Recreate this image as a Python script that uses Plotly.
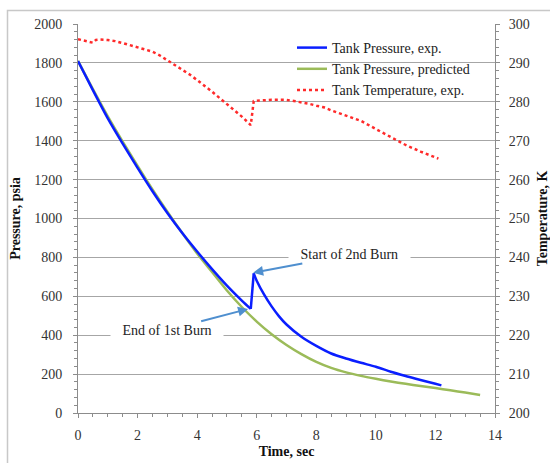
import plotly.graph_objects as go
from plotly.subplots import make_subplots

# ---- data ----
t_pred = [0, 0.5, 1, 1.5, 2, 2.5, 3, 3.5, 4, 4.5, 5, 5.5, 6, 6.5, 7, 7.5, 8, 8.5, 9, 9.5,
          10, 10.5, 11, 11.5, 12, 12.5, 13, 13.5]
p_pred = [1810, 1665, 1525, 1395, 1270, 1150, 1035, 925, 820, 725, 630, 545, 470, 405, 350, 303,
          263, 232, 209, 191, 176, 162, 150, 139, 128, 117, 105, 93]

t_exp_1 = [0, 0.5, 1, 1.5, 2, 2.5, 3, 3.5, 4, 4.5, 5, 5.5, 5.8]
p_exp_1 = [1810, 1660, 1515, 1385, 1260, 1140, 1028, 925, 830, 740, 655, 578, 535]
t_exp_2 = [5.9, 6.0, 6.25, 6.5, 6.75, 7.0, 7.5, 8.0, 8.5, 9.0, 9.5, 10.0, 10.5, 11.0, 11.5,
           12.0, 12.2]
p_exp_2 = [718, 680, 608, 548, 497, 455, 392, 345, 306, 280, 258, 238, 212, 190, 170, 150, 142]

t_temp = [0, 0.25, 0.5, 0.6, 0.75, 1.0, 1.25, 1.5, 1.75, 2.0, 2.25, 2.5, 2.75, 3.0, 3.25, 3.5,
          3.75, 4.0, 4.25, 4.5, 4.75, 5.0, 5.25, 5.5, 5.8, 5.9, 6.0, 6.5, 7.0, 7.25, 7.5, 7.75,
          8.0, 8.25, 8.5, 9.0, 9.5, 10.0, 10.5, 11.0, 11.5, 12.1]
temp = [296.1, 295.7, 295.2, 295.9, 296.0, 295.9, 295.6, 295.1, 294.6, 294.1, 293.6, 292.9,
        291.9, 290.7, 289.6, 288.3, 287.0, 285.6, 284.2, 282.6, 281.0, 279.3, 277.8, 276.2,
        274.0, 280.2, 280.3, 280.5, 280.5, 280.2, 279.9, 279.5, 279.0, 278.6, 277.8, 276.5,
        275.1, 273.0, 270.9, 268.9, 267.2, 265.4]

x_ticks = [0, 2, 4, 6, 8, 10, 12, 14]

FONT = "Liberation Serif"
FS = 14
GRID = "#A6A6A6"
AX = "#8C8C8C"
BLUE = "#0A1EFF"

W, H = 550, 463
L, R, T, B = 78, 55, 24, 50
pw, ph = W - L - R, H - T - B


def px2paper_x(px):
    return (px - L) / pw


def px2paper_y(py):
    return (H - B - py) / ph


fig = make_subplots(specs=[[{"secondary_y": True}]])

fig.add_trace(go.Scatter(x=t_pred, y=p_pred, mode="lines", name="Tank Pressure, predicted",
                         line=dict(color="#9BBB59", width=2.5, shape="spline", smoothing=0.8),
                         legendrank=2),
              secondary_y=False)
fig.add_trace(go.Scatter(x=t_exp_1, y=p_exp_1, mode="lines", name="Tank Pressure, exp.",
                         legendgroup="exp", legendrank=1,
                         line=dict(color=BLUE, width=2.5, shape="spline", smoothing=0.8)),
              secondary_y=False)
fig.add_trace(go.Scatter(x=[t_exp_1[-1], t_exp_2[0]], y=[p_exp_1[-1], p_exp_2[0]], mode="lines",
                         legendgroup="exp", showlegend=False,
                         line=dict(color=BLUE, width=2.5)),
              secondary_y=False)
fig.add_trace(go.Scatter(x=t_exp_2, y=p_exp_2, mode="lines", legendgroup="exp", showlegend=False,
                         line=dict(color=BLUE, width=2.5, shape="spline", smoothing=0.8)),
              secondary_y=False)
fig.add_trace(go.Scatter(x=t_temp, y=temp, mode="lines", name="Tank Temperature, exp.",
                         legendrank=3,
                         line=dict(color="#FF2A2A", width=2.5, dash="dot")),
              secondary_y=True)

fig.update_layout(
    width=W, height=H, autosize=False,
    margin=dict(l=L, r=R, t=T, b=B, autoexpand=False),
    paper_bgcolor="white", plot_bgcolor="white",
    font=dict(family=FONT, size=FS, color="#222222"),
    showlegend=True,
    legend=dict(x=px2paper_x(292), y=px2paper_y(32), xanchor="left", yanchor="top",
                bgcolor="rgba(255,255,255,0)", font=dict(family=FONT, size=FS, color="#222222"),
                traceorder="normal", tracegroupgap=0, itemwidth=30),
    shapes=[
        dict(type="rect", xref="paper", yref="paper", layer="between",
             x0=px2paper_x(284), x1=px2paper_x(494), y0=px2paper_y(97), y1=px2paper_y(34),
             fillcolor="white", line=dict(width=0)),
        dict(type="path", xref="paper", yref="paper", layer="below",
             path="M {x0},{y1} L {x1},{y1} L {x1},{y0} L {x0},{y0} Z".format(
                 x0=px2paper_x(7.5), x1=px2paper_x(600), y0=px2paper_y(520), y1=px2paper_y(10.5)),
             line=dict(color="#C8C8C8", width=1.5)),
    ],
)

fig.update_xaxes(
    domain=[0, 1],
    range=[0, 14], tickvals=x_ticks, ticks="outside", ticklen=4, tickcolor=AX,
    showline=True, linecolor=AX, linewidth=1, showgrid=False, zeroline=False, automargin=False,
    tickfont=dict(family=FONT, size=FS, color="#333333"), ticklabelstandoff=5,
    minor=dict(dtick=0.5, ticks="outside", ticklen=3, tickcolor=AX),
    title=dict(text="<b>Time, sec</b>", font=dict(family=FONT, size=FS, color="#111111"), standoff=4),
)
fig.update_yaxes(
    range=[0, 2000], dtick=200, ticks="outside", ticklen=4, tickcolor=AX,
    showline=True, linecolor=AX, linewidth=1, showgrid=True, gridcolor=GRID, gridwidth=1,
    zeroline=False, automargin=False,
    tickfont=dict(family=FONT, size=FS, color="#333333"), ticklabelstandoff=8,
    minor=dict(dtick=40, ticks="outside", ticklen=3, tickcolor=AX, showgrid=False),
    title=dict(text="<b>Pressure, psia</b>", font=dict(family=FONT, size=FS, color="#111111"), standoff=10),
    secondary_y=False,
)
fig.update_yaxes(
    range=[200, 300], dtick=10, ticks="outside", ticklen=4, tickcolor=AX,
    showline=True, linecolor=AX, linewidth=1, showgrid=False, zeroline=False, automargin=False,
    tickfont=dict(family=FONT, size=FS, color="#333333"), ticklabelstandoff=6,
    minor=dict(dtick=2, ticks="outside", ticklen=3, tickcolor=AX),
    title=dict(text="<b>Temperature, K</b>", font=dict(family=FONT, size=FS, color="#111111"), standoff=12),
    secondary_y=True,
)

ARROW = "#4F8FCF"
fig.add_annotation(x=5.88, y=721, ax=9.13, ay=815, axref="x", ayref="y", xref="x", yref="y",
                   text="&nbsp;&nbsp;&nbsp;Start of 2nd Burn&nbsp;&nbsp;&nbsp;", showarrow=True,
                   arrowhead=2, arrowsize=1, arrowwidth=2, arrowcolor=ARROW,
                   bgcolor="white", borderpad=1,
                   font=dict(family=FONT, size=FS, color="#222222"))
fig.add_annotation(x=5.71, y=535, ax=2.99, ay=425, axref="x", ayref="y", xref="x", yref="y",
                   text="&nbsp;&nbsp;&nbsp;End of 1st Burn&nbsp;&nbsp;&nbsp;", showarrow=True,
                   arrowhead=2, arrowsize=1, arrowwidth=2, arrowcolor=ARROW,
                   bgcolor="white", borderpad=1,
                   font=dict(family=FONT, size=FS, color="#222222"))

post = ("document.body.style.margin='0px';"
        "document.body.style.padding='0px';"
        "document.body.style.overflow='hidden';"
        "Plotly.relayout('{plot_id}', {width: 550, height: 463});")

fig.write_html("out.html", config={"responsive": False, "displayModeBar": False},
               post_script=post, default_width="550px", default_height="463px")
